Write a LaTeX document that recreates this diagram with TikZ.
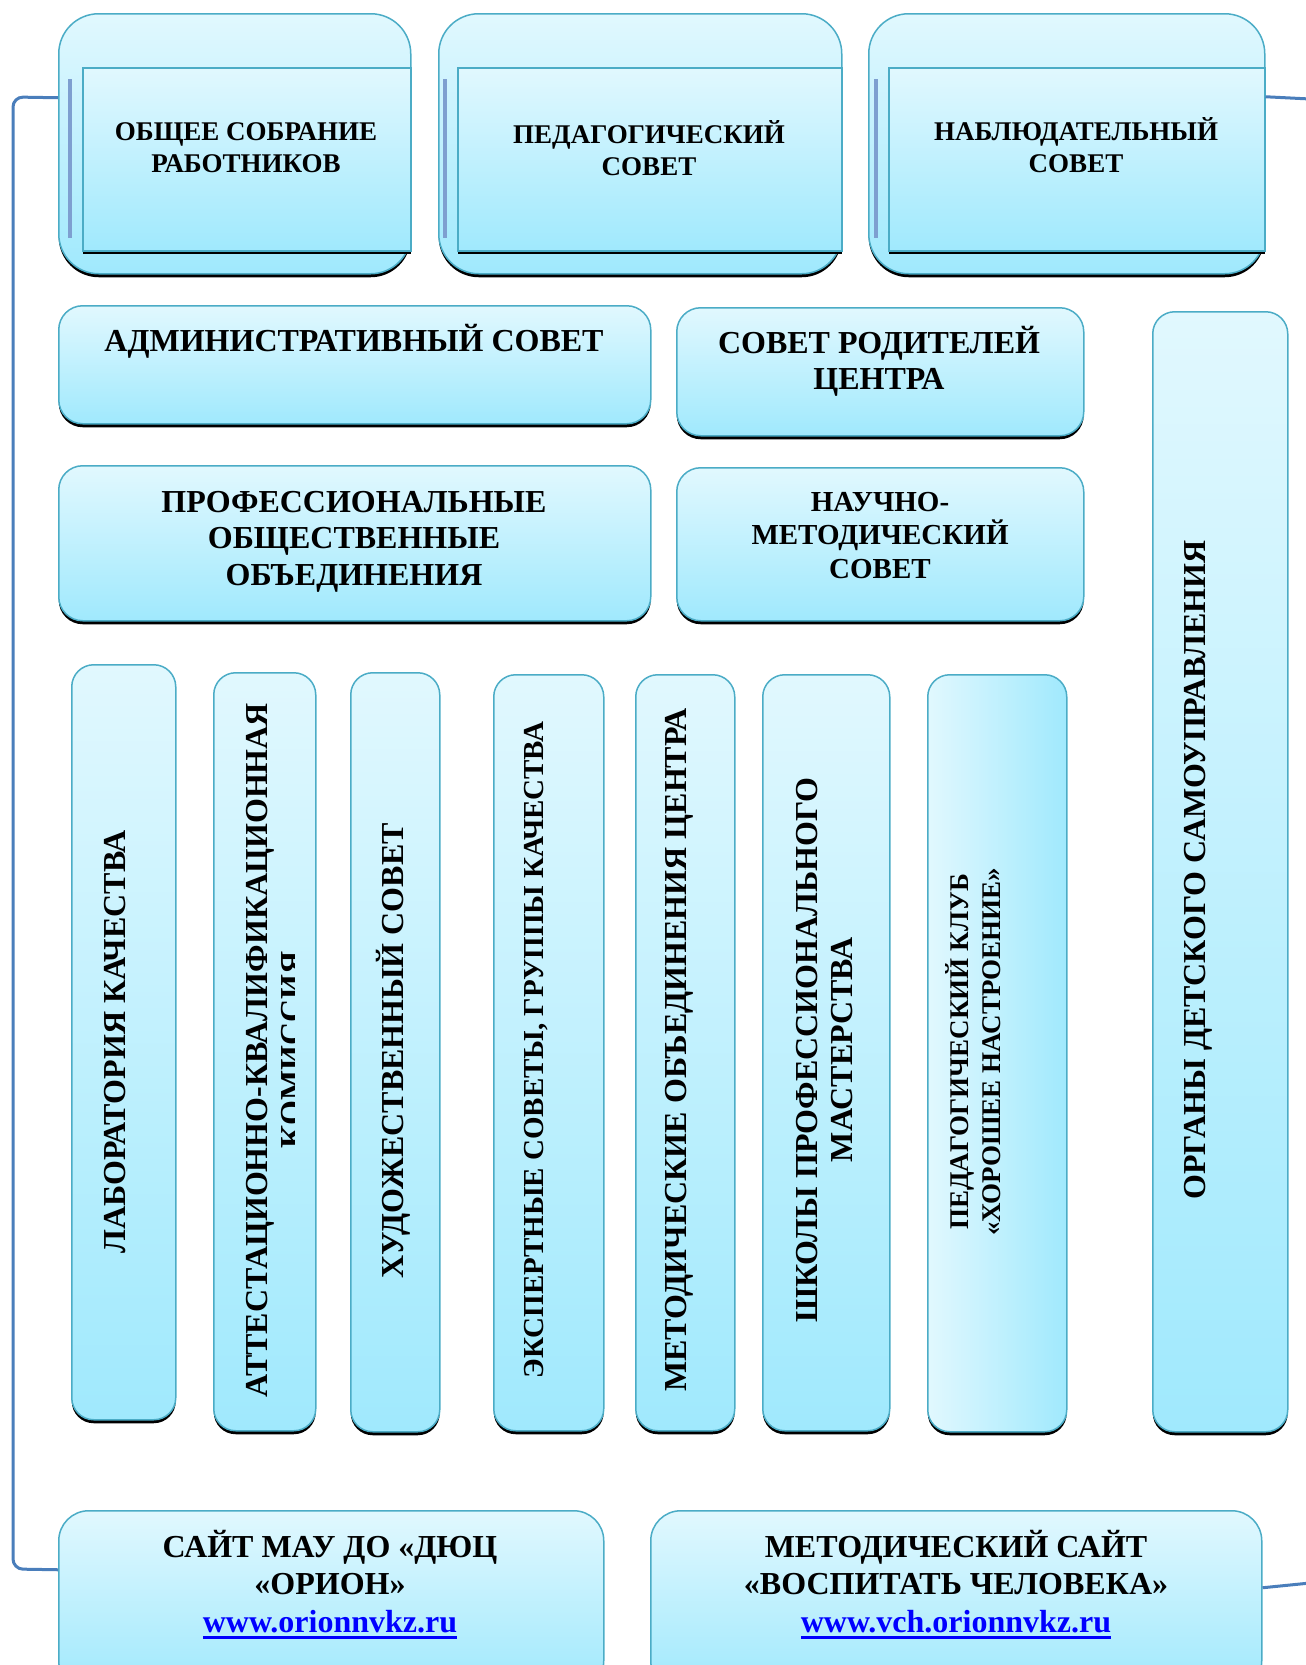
\documentclass[tikz,border=0pt]{standalone}
\usepackage{fontspec}
\setmainfont{Liberation Serif}
\usetikzlibrary{shadows}

\definecolor{boxline}{HTML}{4BACC6}
\definecolor{boxtop}{HTML}{E1F8FE}
\definecolor{boxbottom}{HTML}{A0E9FD}
\definecolor{railblue}{HTML}{4A7EBB}
\definecolor{barblue}{HTML}{7E9FD0}
\definecolor{urlblue}{HTML}{0000FF}

% underlined site address
\newcommand{\weblink}[1]{{\color{urlblue}\setbox0=\hbox{#1}\rlap{\rule[-6.5pt]{\wd0}{3pt}}\box0}}

\tikzset{
    orgbox/.style = {draw=boxline, line width=1.5pt, rounded corners=#1,
        inner sep=0pt, anchor=north west,
        top color=boxtop, bottom color=boxbottom,
        drop shadow={shadow xshift=0pt, shadow yshift=-3.5pt, fill=black, opacity=1}},
    orgbox/.default = 24pt,
    innerbox/.style = {orgbox, sharp corners},
    lbl/.style = {font=\bfseries\fontsize{32}{37}\selectfont, align=center,
        inner sep=0pt, anchor=base},
    lblsmall/.style = {font=\bfseries\fontsize{27}{32}\selectfont},
    vlbl/.style = {lbl, rotate=90},
    rail/.style = {draw=railblue, line width=3pt, rounded corners=10pt},
    sidebar/.style = {draw=barblue, line width=3.5pt}
}

\begin{document}
\begin{tikzpicture}[x=1pt, y=-1pt]

    \useasboundingbox (0,0) rectangle (1306,1665);
    \clip (0,0) rectangle (1306,1665);

    % Points of the blue rails.
    \coordinate (railtop) at (13,97);
    \coordinate (railbottom) at (13,1569);
    \coordinate (rightout1) at (1310,99);
    \coordinate (rightout2) at (1310,1583);

    % Top row: three councils.
    \node[orgbox=40pt, minimum width=352pt, minimum height=260pt] (top1) at (58,13) {};
    \node[innerbox, minimum width=328pt, minimum height=183pt] (in1) at (82,67) {};
    \node[orgbox=40pt, minimum width=403pt, minimum height=260pt] (top2) at (438,13) {};
    \node[innerbox, minimum width=384pt, minimum height=183pt] (in2) at (457,67) {};
    \node[orgbox=40pt, minimum width=396pt, minimum height=260pt] (top3) at (868,13) {};
    \node[innerbox, minimum width=376pt, minimum height=183pt] (in3) at (888,67) {};

    \foreach \n in {in1, in2, in3}
        \draw[sidebar] ([xshift=-12pt, yshift=-12pt]\n.north west)
            -- ([xshift=-12pt, yshift=-171pt]\n.north west);

    % (the base of a several-line label is its last line)
    \node[lbl, lblsmall] (t1) at (246,172) {ОБЩЕЕ СОБРАНИЕ\\РАБОТНИКОВ};
    \node[lbl, lblsmall] (t2) at (649,175) {ПЕДАГОГИЧЕСКИЙ\\СОВЕТ};
    \node[lbl, lblsmall] (t3) at (1076,172) {НАБЛЮДАТЕЛЬНЫЙ\\СОВЕТ};

    % Second and third rows.
    \node[orgbox, minimum width=592pt, minimum height=118pt] (admin) at (58,305) {};
    \node[orgbox, minimum width=407pt, minimum height=128pt] (parents) at (676,307) {};
    \node[orgbox, minimum width=592pt, minimum height=155pt] (prof) at (58,465) {};
    \node[orgbox, minimum width=407pt, minimum height=153pt] (science) at (676,467) {};

    \node[lbl] (admin-t) at (354,351) {АДМИНИСТРАТИВНЫЙ СОВЕТ};
    \node[lbl, font=\bfseries\fontsize{32}{36}\selectfont] (parents-t) at (879,389)
        {СОВЕТ РОДИТЕЛЕЙ\\ЦЕНТРА};
    \node[lbl, font=\bfseries\fontsize{32}{36.5}\selectfont] (prof-t) at (354,585)
        {ПРОФЕССИОНАЛЬНЫЕ\\ОБЩЕСТВЕННЫЕ\\ОБЪЕДИНЕНИЯ};
    \node[lbl, font=\bfseries\fontsize{29}{33.5}\selectfont] (science-t) at (880,578)
        {НАУЧНО-\\МЕТОДИЧЕСКИЙ\\СОВЕТ};

    % Vertical columns.
    \node[orgbox=22pt, minimum width=104pt, minimum height=755pt] (lab) at (71,664) {};
    \node[orgbox=22pt, minimum width=102pt, minimum height=758pt] (att) at (213,672) {};
    \node[orgbox=22pt, minimum width=89pt, minimum height=759pt] (art) at (350,672) {};
    \node[orgbox=22pt, minimum width=110pt, minimum height=756pt] (expert) at (493,674) {};
    \node[orgbox=22pt, minimum width=99pt, minimum height=756pt] (method) at (635,674) {};
    \node[orgbox=22pt, minimum width=127pt, minimum height=756pt] (school) at (762,674) {};
    \node[orgbox=22pt, minimum width=139pt, minimum height=757pt,
        left color=boxtop, right color=boxbottom] (club) at (927,674) {};
    \node[orgbox=22pt, minimum width=135pt, minimum height=1120pt] (kids) at (1152,311) {};

    \node[vlbl] (lab-t) at (125.6,1042) {ЛАБОРАТОРИЯ КАЧЕСТВА};
    \begin{scope}
        \clip (213,672) rectangle (294,1430);
        \node[vlbl, font=\bfseries\fontsize{32}{35}\selectfont] (att-t) at (302.6,1050)
            {АТТЕСТАЦИОННО-КВАЛИФИКАЦИОННАЯ\\КОМИССИЯ};
    \end{scope}
    \node[vlbl] (art-t) at (403.6,1051) {ХУДОЖЕСТВЕННЫЙ СОВЕТ};
    \node[vlbl, font=\bfseries\fontsize{29}{34}\selectfont] (expert-t) at (543.6,1050)
        {ЭКСПЕРТНЫЕ СОВЕТЫ, ГРУППЫ КАЧЕСТВА};
    \node[vlbl] (method-t) at (686.6,1050) {МЕТОДИЧЕСКИЕ ОБЪЕДИНЕНИЯ ЦЕНТРА};
    \node[vlbl, font=\bfseries\fontsize{32}{35}\selectfont] (school-t) at (852.6,1050)
        {ШКОЛЫ ПРОФЕССИОНАЛЬНОГО\\МАСТЕРСТВА};
    \node[vlbl, lblsmall] (club-t) at (1000,1052)
        {ПЕДАГОГИЧЕСКИЙ КЛУБ\\«ХОРОШЕЕ НАСТРОЕНИЕ»};
    \node[vlbl] (kids-t) at (1205.6,870) {ОРГАНЫ ДЕТСКОГО САМОУПРАВЛЕНИЯ};

    % Bottom row: the two sites.
    \node[orgbox=30pt, minimum width=545pt, minimum height=180pt] (site1) at (58,1510) {};
    \node[orgbox=30pt, minimum width=611pt, minimum height=180pt] (site2) at (650,1510) {};

    \node[lbl, font=\bfseries\fontsize{32}{37.5}\selectfont] (site1-t) at (330,1632)
        {САЙТ МАУ ДО «ДЮЦ\\«ОРИОН»\\\weblink{www.orionnvkz.ru}};
    \node[lbl, font=\bfseries\fontsize{32}{37.5}\selectfont] (site2-t) at (956,1632)
        {МЕТОДИЧЕСКИЙ САЙТ\\«ВОСПИТАТЬ ЧЕЛОВЕКА»\\\weblink{www.vch.orionnvkz.ru}};

    % Blue rails joining the boxes.
    \draw[rail] ([yshift=46pt]top1.west) -- (railtop) -- (railbottom)
        -- ([yshift=31pt]site1.west);
    \draw[rail] ([yshift=47pt]top3.east) -- (rightout1);
    \draw[rail] ([yshift=13pt]site2.east) -- (rightout2);

\end{tikzpicture}
\end{document}
